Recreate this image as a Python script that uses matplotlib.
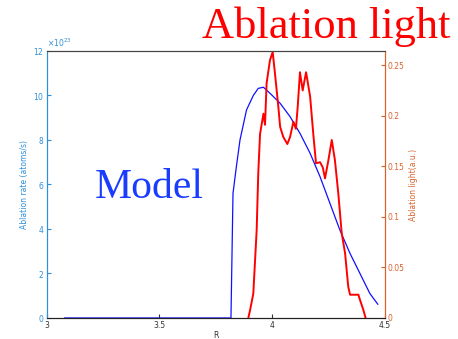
import matplotlib
matplotlib.use("Agg")
import matplotlib.pyplot as plt
from matplotlib.ticker import ScalarFormatter

# model ablation rate (atoms/s)
r_model = [3.08, 3.817, 3.826, 3.841, 3.857, 3.886, 3.916, 3.938, 3.961, 3.990,
           4.035, 4.079, 4.123, 4.168, 4.212, 4.256, 4.300, 4.345, 4.389, 4.433, 4.468]
rate_model = [0, 0, 5.6, 6.8, 8.0, 9.35, 10.0, 10.32, 10.37, 10.1,
              9.65, 9.05, 8.3, 7.4, 6.35, 5.15, 3.95, 2.9, 2.0, 1.1, 0.62]
rate_model = [v * 1e23 for v in rate_model]

# measured ablation light (a.u.)
r_light = [3.894, 3.902, 3.916, 3.931, 3.938, 3.946, 3.961, 3.968, 3.975, 3.990,
           4.002, 4.012, 4.027, 4.035, 4.049, 4.067, 4.079, 4.094, 4.105, 4.113,
           4.123, 4.135, 4.150, 4.168, 4.182, 4.194, 4.212, 4.224, 4.234, 4.249,
           4.264, 4.278, 4.293, 4.308, 4.323, 4.337, 4.345, 4.382, 4.389, 4.404, 4.414]
light = [0, 0.008, 0.024, 0.087, 0.143, 0.182, 0.202, 0.191, 0.232, 0.255,
         0.263, 0.242, 0.209, 0.189, 0.179, 0.172, 0.179, 0.194, 0.187, 0.209,
         0.243, 0.225, 0.243, 0.219, 0.182, 0.153, 0.154, 0.149, 0.138, 0.156,
         0.176, 0.156, 0.123, 0.084, 0.064, 0.031, 0.023, 0.023, 0.018, 0.008, 0]

x_ticks = [3, 3.5, 4, 4.5]
x_labels = ["3", "3.5", "4", "4.5"]
left_ticks = [0, 2, 4, 6, 8, 10, 12]
right_ticks = [0, 0.05, 0.1, 0.15, 0.2, 0.25]
right_labels = ["0", "0.05", "0.1", "0.15", "0.2", "0.25"]

c_left = "#2f8fd8"
c_right = "#d9622b"

fig = plt.figure(figsize=(4.58, 3.39), dpi=100)
ax = fig.add_axes([0.102, 0.062, 0.7386, 0.7876])
ax2 = ax.twinx()

ax.plot(r_model, rate_model, color="#1010ff", lw=0.9)
ax2.plot(r_light, light, color="#ff0000", lw=1.4)

ax.set_xlim(3, 4.5)
ax.set_ylim(0, 12e23)
ax2.set_ylim(0, 0.264)

ax.set_xticks(x_ticks)
ax.set_xticklabels(x_labels)
ax.set_yticks([t * 1e23 for t in left_ticks])
fmt = ScalarFormatter(useMathText=True)
fmt.set_powerlimits((23, 23))
ax.yaxis.set_major_formatter(fmt)
ax.yaxis.get_offset_text().set_fontsize(5.5)
ax.yaxis.get_offset_text().set_color(c_left)
ax2.set_yticks(right_ticks)
ax2.set_yticklabels(right_labels)

ax.tick_params(axis="x", direction="in", length=3, labelsize=5.5, colors="#333333", pad=2.5)
ax.tick_params(axis="y", direction="in", length=3, labelsize=5.5, colors=c_left, pad=2)
ax2.tick_params(axis="y", direction="in", length=3, labelsize=5.5, colors=c_right, pad=2)

ax.set_xlabel("R", fontsize=5.5, color="#333333", labelpad=0.5)
ax.set_ylabel("Ablation rate (atoms/s)", fontsize=5.5, color=c_left, labelpad=3)
ax2.set_ylabel("Ablation light(a.u.)", fontsize=5.5, color=c_right, labelpad=3)

for a in (ax, ax2):
    a.spines["left"].set_color(c_left)
    a.spines["right"].set_color(c_right)
    a.spines["top"].set_color("#444444")
    a.spines["bottom"].set_color("#222222")
    for s in a.spines.values():
        s.set_linewidth(0.8)

fig.text(0.441, 0.889, "Ablation light", fontsize=32, color="#ff0000",
         family="Liberation Serif", ha="left", va="baseline")
fig.text(0.207, 0.417, "Model", fontsize=30, color="#1a3cff",
         family="Liberation Serif", ha="left", va="baseline")

fig.savefig("out.png", dpi=100)
